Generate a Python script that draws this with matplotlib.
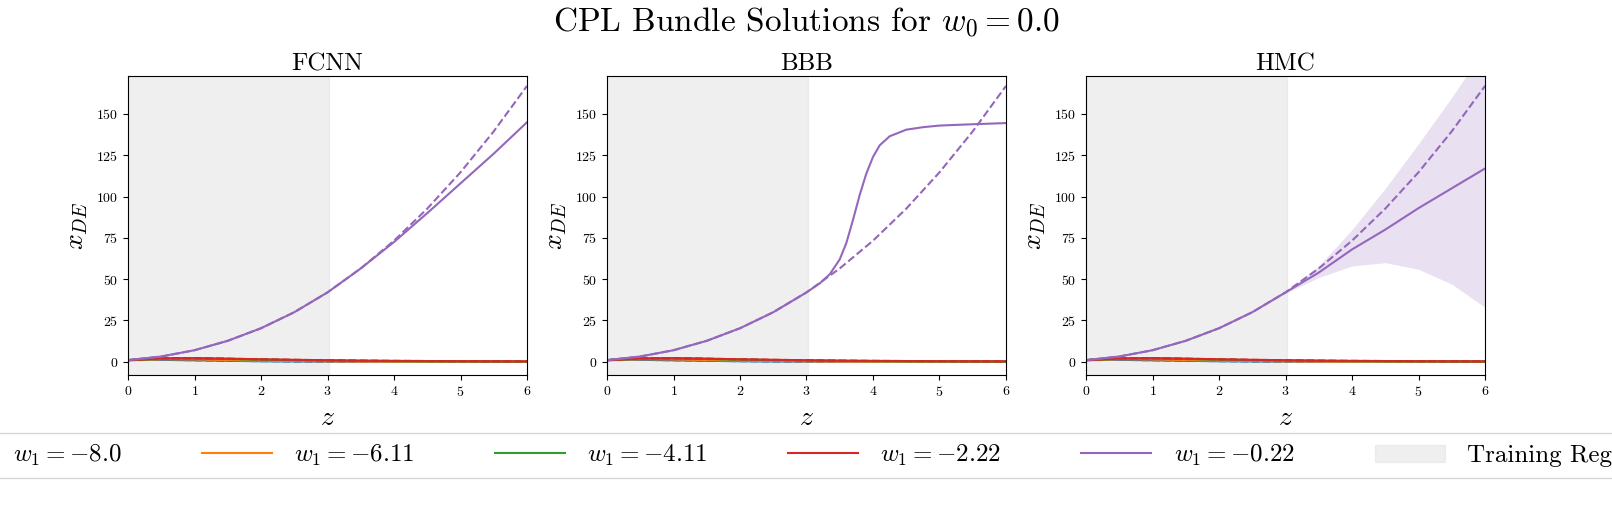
import numpy as np
import matplotlib.pyplot as plt
from matplotlib.patches import Patch

plt.rcParams['font.family'] = 'serif'
plt.rcParams['font.serif'] = ['cmr10']
plt.rcParams['mathtext.fontset'] = 'cm'
plt.rcParams['axes.unicode_minus'] = False
plt.rcParams['axes.formatter.use_mathtext'] = True

z = [0, 0.5, 1, 1.5, 2, 2.5, 3, 3.5, 4, 4.5, 5, 5.5, 6]
w1_labels = ['-8.0', '-6.11', '-4.11', '-2.22', '-0.22']
colors = ['tab:blue', 'tab:orange', 'tab:green', 'tab:red', 'tab:purple']

# analytic solutions
exact = {
    '-8.0': [1, 1.2, 0.9, 0.6, 0.35, 0.2, 0.12, 0.07, 0.05, 0.03, 0.02, 0.015, 0.01],
    '-6.11': [1, 1.6, 1.5, 1.1, 0.75, 0.5, 0.33, 0.22, 0.15, 0.1, 0.07, 0.05, 0.04],
    '-4.11': [1, 1.9, 2.0, 1.7, 1.35, 1.0, 0.75, 0.55, 0.42, 0.32, 0.25, 0.2, 0.16],
    '-2.22': [1, 2.1, 2.2, 1.9, 1.5, 1.2, 0.93, 0.72, 0.57, 0.45, 0.36, 0.3, 0.25],
    '-0.22': [1, 3.2, 7.0, 12.7, 20.3, 30.0, 42.0, 56.5, 73.3, 92.7, 114.7, 139.5, 167],
}

fcnn_purple = [1, 3.2, 7.0, 12.7, 20.3, 30.0, 42.0, 56.5, 72.5, 90, 108, 126, 145]
z_bbb = [0, 0.5, 1, 1.5, 2, 2.5, 3, 3.2, 3.35, 3.5, 3.6, 3.7, 3.8, 3.9, 4.0,
         4.1, 4.25, 4.5, 4.75, 5, 5.5, 6]
bbb_purple = [1, 3.2, 7.0, 12.7, 20.3, 30.0, 42.0, 47.5, 53, 62, 72, 86, 101,
              114, 124, 131, 136.5, 140.5, 142, 143, 143.8, 144.5]
hmc_purple = [1, 3.2, 7.0, 12.7, 20.3, 30.0, 42.0, 54, 68, 80, 93, 105, 117]
hmc_upper = [1, 3.2, 7.0, 12.7, 20.3, 30.0, 42.5, 58, 80, 105, 132, 160, 190]
hmc_lower = [1, 3.2, 7.0, 12.7, 20.3, 30.0, 41.5, 51, 58, 60, 56, 47, 33]

titles = ['FCNN', 'BBB', 'HMC']

fig = plt.figure(figsize=(16.12, 5.14), dpi=100)
lefts = [128, 607, 1086]
axes = [fig.add_axes([l / 1612, 1 - 375 / 514, 399 / 1612, 299 / 514]) for l in lefts]

for k, ax in enumerate(axes):
    ax.axvspan(0, 3.03, color='0.85', alpha=0.4, zorder=0)
    for lab, c in zip(w1_labels, colors):
        ax.plot(z, exact[lab], color=c, ls='--', lw=1.5)
        if lab != '-0.22':
            ax.plot(z, exact[lab], color=c, lw=1.5)
    c = colors[-1]
    if k == 0:
        ax.plot(z, fcnn_purple, color=c, lw=1.5)
    elif k == 1:
        ax.plot(z_bbb, bbb_purple, color=c, lw=1.5)
    else:
        ax.fill_between(z, hmc_lower, hmc_upper, color=c, alpha=0.2, lw=0)
        ax.plot(z, hmc_purple, color=c, lw=1.5)
    ax.set_xlim(0, 6)
    ax.set_ylim(-8, 173)
    ax.set_yticks([0, 25, 50, 75, 100, 125, 150])
    ax.set_title(titles[k], fontsize=18, pad=4)
    ax.set_xlabel('$z$', fontsize=20)
    ax.set_ylabel('$x_{DE}$', fontsize=20)
    ax.tick_params(labelsize=10)

fig.suptitle('CPL Bundle Solutions for $w_0 = 0.0$', fontsize=24, y=0.99)

handles = [plt.Line2D([], [], color=c, lw=1.5) for c in colors]
handles.append(Patch(color='0.85', alpha=0.4))
labels = [f'$w_1 = {l}$' for l in w1_labels] + ['Training Region']
fig.legend(handles, labels, ncol=6, loc='lower center', bbox_to_anchor=(0.4858, 0.045),
           fontsize=18, handlelength=2.8, columnspacing=3.2, handletextpad=0.9,
           borderpad=0.4)

fig.savefig('out.png', dpi=100)
